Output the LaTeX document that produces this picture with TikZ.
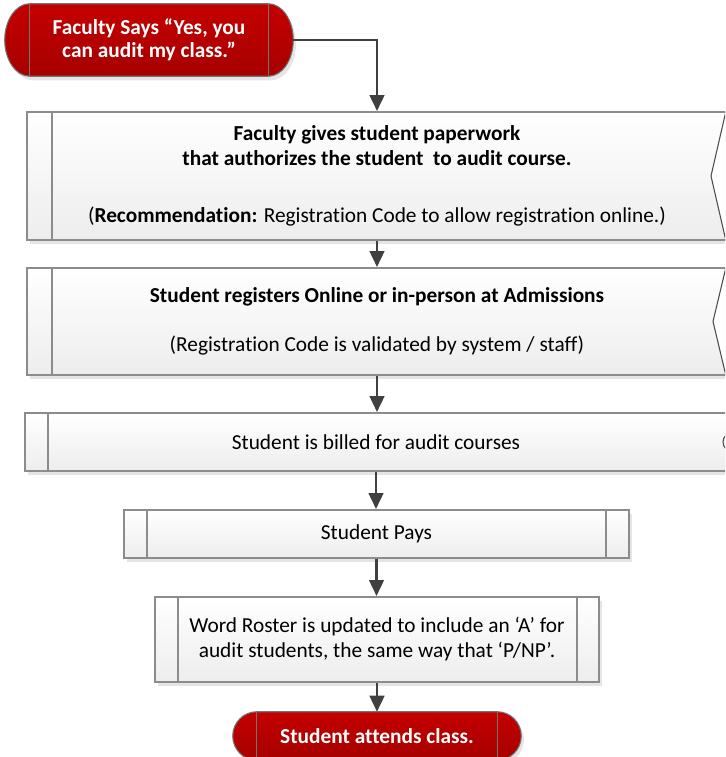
\documentclass[tikz,border=0pt]{standalone}
\usepackage{fontspec}
\setmainfont{Carlito}[Ligatures=NoCommon]
\usetikzlibrary{shapes,arrows.meta,shadows,calc,positioning,backgrounds}

\definecolor{termred}{RGB}{196,0,0}
\definecolor{termdark}{RGB}{166,0,0}
\definecolor{boxline}{RGB}{140,140,140}
\definecolor{arrowgray}{RGB}{64,64,64}

\tikzstyle{termnode}=[rectangle, inner sep=0pt, align=center, text=white, font=\fontsize{16}{17.5}\selectfont\bfseries]
\tikzstyle{procbox}=[rectangle, draw=boxline, line width=1.5pt, top color=white, bottom color=black!7, drop shadow={shadow xshift=2.25pt, shadow yshift=-3pt, fill=black!10, opacity=1}, inner sep=0pt, align=center, font=\fontsize{16}{18.5}\selectfont]
\tikzstyle{flow}=[-{Triangle[length=12pt,width=11pt]}, draw=arrowgray, line width=1.9pt]
\tikzstyle{edge}=[draw=boxline, line width=1.5pt]

% rounded ends of a terminator, #2 = depth of the ends
\newcommand\termoutline[2]{%
  \path let \p1=(#1.north west), \p2=(#1.south east), \n1={(\y1-\y2)/2} in
    [fill=black!10] ({\x1+#2+2pt},{\y1-3pt}) -- ({\x2-#2+2pt},{\y1-3pt})
    arc[start angle=90,end angle=-90,x radius=#2,y radius=\n1] -- ({\x1+#2+2pt},{\y2-3pt})
    arc[start angle=270,end angle=90,x radius=#2,y radius=\n1] -- cycle;
  \path let \p1=(#1.north west), \p2=(#1.south east), \n1={(\y1-\y2)/2} in
    [top color=termred, bottom color=termdark, draw=black!55, line width=0.8pt]
    ({\x1+#2},\y1) -- ({\x2-#2},\y1)
    arc[start angle=90,end angle=-90,x radius=#2,y radius=\n1] -- ({\x1+#2},\y2)
    arc[start angle=270,end angle=90,x radius=#2,y radius=\n1] -- cycle;
  \draw[black!55, line width=0.8pt] let \p1=(#1.north west), \p2=(#1.south east) in
    ({\x1+#2},\y1) -- ({\x1+#2},\y2) ({\x2-#2},\y1) -- ({\x2-#2},\y2);
}

\begin{document}
\begin{tikzpicture}[x=0.75pt,y=0.75pt]
\useasboundingbox (0,0) rectangle (725,-757);
\clip (0,0) rectangle (725,-757);

% start and end
\node[termnode, minimum width=288*0.75pt, minimum height=72*0.75pt] (start) at (149,-40) {Faculty Says “Yes, you\\can audit my class.”};
\node[termnode, minimum width=288*0.75pt, minimum height=48*0.75pt] (finish) at (377,-736) {Student attends class.};
\begin{scope}[on background layer]
  \termoutline{start}{18.75pt}
  \termoutline{finish}{18pt}
\end{scope}

% process boxes
\node[procbox, minimum width=700*0.75pt, minimum height=128*0.75pt] (b1) at (377,-176)
  {\textbf{Faculty gives student paperwork}\\\textbf{that authorizes the student\ \ to audit course.}\\[24pt](\textbf{Recommendation:} Registration Code to allow registration online.)};
\node[procbox, minimum width=700*0.75pt, minimum height=107*0.75pt] (b2) at (377,-321.5)
  {\textbf{Student registers Online or in-person at Admissions}\\[18pt](Registration Code is validated by system / staff)};
\node[procbox, minimum width=702*0.75pt, minimum height=58*0.75pt] (b3) at (376,-442) {Student is billed for audit courses};
\node[procbox, minimum width=505*0.75pt, minimum height=48*0.75pt] (b4) at (376.5,-534) {Student Pays};
\node[procbox, minimum width=444*0.75pt, minimum height=85*0.75pt, font=\fontsize{16}{18.75}\selectfont] (b5) at (377,-639.5)
  {Word Roster is updated to include an ‘A’ for\\audit students, the same way that ‘P/NP’.};

% inner side lines
\draw[edge] ($(b1.north west)+(26,0)$) -- ($(b1.south west)+(26,0)$);
\draw[edge] ($(b2.north west)+(26,0)$) -- ($(b2.south west)+(26,0)$);
\draw[edge] ($(b3.north west)+(24,0)$) -- ($(b3.south west)+(24,0)$);
\draw[edge] ($(b4.north west)+(24,0)$) -- ($(b4.south west)+(24,0)$);
\draw[edge] ($(b4.north east)+(-24,0)$) -- ($(b4.south east)+(-24,0)$);
\draw[edge] ($(b5.north west)+(24,0)$) -- ($(b5.south west)+(24,0)$);
\draw[edge] ($(b5.north east)+(-23,0)$) -- ($(b5.south east)+(-23,0)$);

% cut edges on the right
\fill[white] ($(b1.north east)+(-2,2)$) -- ($(b1.east)+(-17,0)$) -- ($(b1.south east)+(-2,-2)$) -- ($(b1.south east)+(8,-6)$) -- ($(b1.north east)+(8,2)$) -- cycle;
\draw[black!70, line width=0.8pt] ($(b1.north east)+(-2,0)$) -- ($(b1.east)+(-17,0)$) -- ($(b1.south east)+(-2,0)$);
\fill[white] ($(b2.north east)+(-2,2)$) -- ($(b2.east)+(-15,0)$) -- ($(b2.south east)+(-2,-2)$) -- ($(b2.south east)+(8,-6)$) -- ($(b2.north east)+(8,2)$) -- cycle;
\draw[black!70, line width=0.8pt] ($(b2.north east)+(-2,0)$) -- ($(b2.east)+(-15,0)$) -- ($(b2.south east)+(-2,0)$);
\draw[black!70, line width=0.8pt] ($(b3.east)+(-2,7)$) .. controls ($(b3.east)+(-6,3)$) and ($(b3.east)+(-6,-3)$) .. ($(b3.east)+(-2,-7)$);

% connectors
\draw[flow] (start.east) -| (b1.north);
\draw[flow] (b1.south) -- (b2.north);
\draw[flow] (b2.south) -- (b2.south |- b3.north);
\draw[flow] (b3.south) -- (b3.south |- b4.north);
\draw[flow] (b4.south) -- (b4.south |- b5.north);
\draw[flow] (b5.south) -- (b5.south |- finish.north);
\end{tikzpicture}
\end{document}
